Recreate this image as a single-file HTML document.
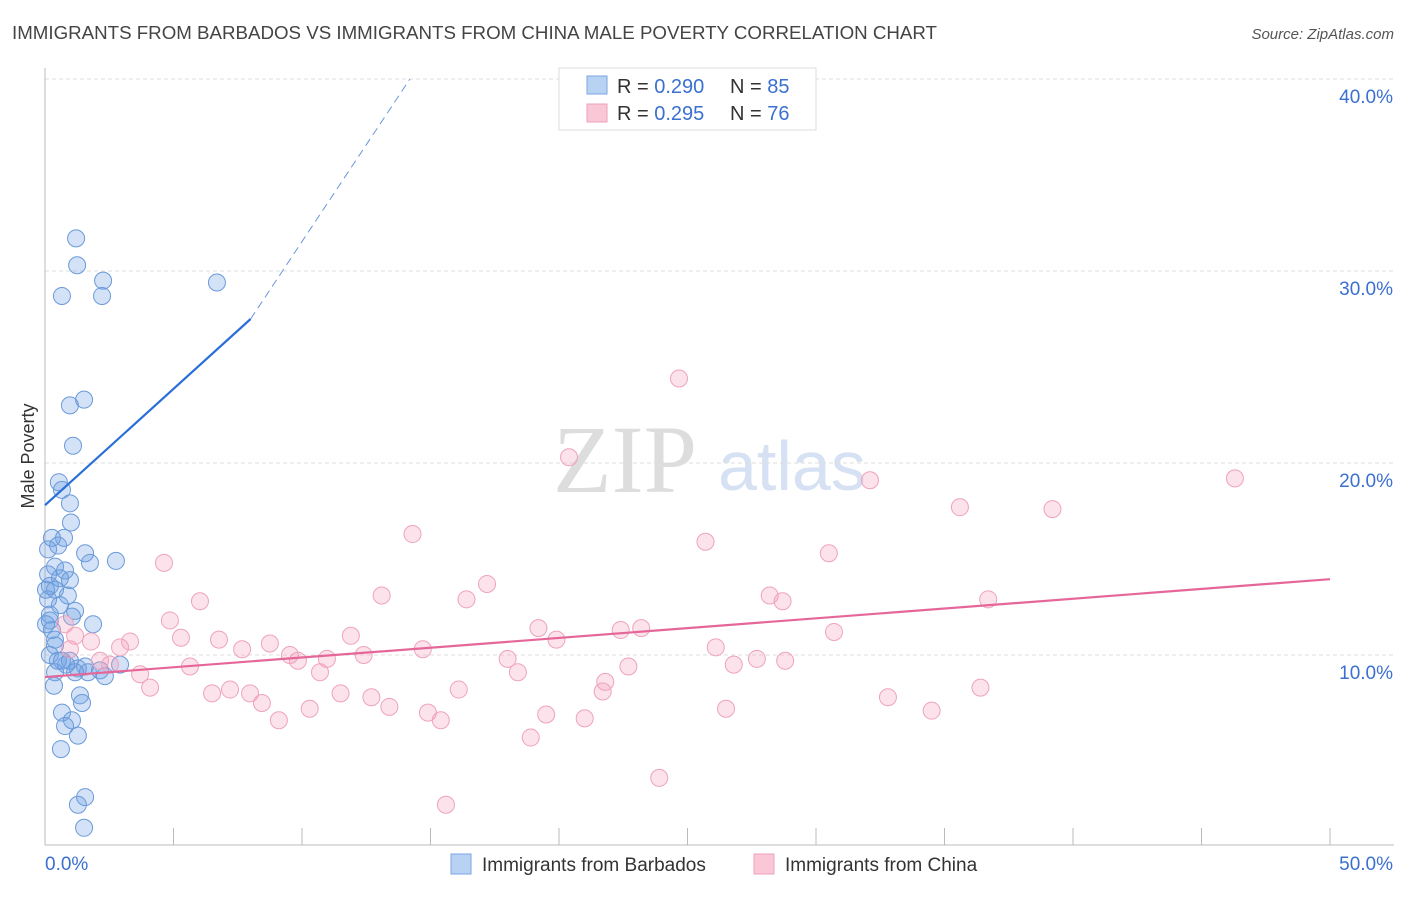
<!DOCTYPE html>
<html><head><meta charset="utf-8"><style>
body{margin:0;background:#fff;font-family:"Liberation Sans",sans-serif;}
</style></head><body>
<svg id="chart" width="1406" height="892" xmlns="http://www.w3.org/2000/svg" font-family="Liberation Sans, sans-serif">
<text x="12" y="39" font-size="18" fill="#444" textLength="925" lengthAdjust="spacingAndGlyphs">IMMIGRANTS FROM BARBADOS VS IMMIGRANTS FROM CHINA MALE POVERTY CORRELATION CHART</text>
<text x="1394" y="39" font-size="15" fill="#555" text-anchor="end" font-style="italic">Source: ZipAtlas.com</text>
<text x="553" y="492" font-size="96" fill="#ddd" style="font-family:'Liberation Serif',serif">ZIP</text>
<text x="718" y="490" font-size="70" fill="#d6e2f3">atlas</text>
<g id="grid"></g>
<g id="axes"></g>
<g id="marks"></g>
<text transform="translate(34,456) rotate(-90)" font-size="18" fill="#333" text-anchor="middle">Male Poverty</text>
<g>
<rect x="559" y="68" width="257" height="62" fill="#fff" stroke="#ddd"/>
<rect x="587" y="76" width="20" height="18" fill="#b8d2f4" stroke="#7aa6e0"/>
<rect x="587" y="104" width="20" height="18" fill="#f9c7d6" stroke="#eea0b9"/>
<text x="617" y="93" font-size="20" fill="#333">R = <tspan fill="#3a70d0">0.290</tspan></text>
<text x="730" y="93" font-size="20" fill="#333">N = <tspan fill="#3a70d0">85</tspan></text>
<text x="617" y="120" font-size="20" fill="#333">R = <tspan fill="#3a70d0">0.295</tspan></text>
<text x="730" y="120" font-size="20" fill="#333">N = <tspan fill="#3a70d0">76</tspan></text>
</g>
<g>
<rect x="451" y="854" width="20" height="20" fill="#b8d2f4" stroke="#7aa6e0"/>
<text x="482" y="871" font-size="19" fill="#333">Immigrants from Barbados</text>
<rect x="754" y="854" width="20" height="20" fill="#f9c7d6" stroke="#eea0b9"/>
<text x="785" y="871" font-size="19" fill="#333">Immigrants from China</text>
</g>
</svg>
<script>
const yTicks=[10,20,30,40];
const yTickLabels=["10.0%","20.0%","30.0%","40.0%"];
const xTickVals=[0,5,10,15,20,25,30,35,40,45,50];
const blueX=[1.21,1.25,0.66,2.26,2.22,6.69,0.97,1.52,1.09,0.54,0.66,0.97,1.01,0.74,0.27,0.51,1.56,1.75,2.76,0.39,0.78,0.58,0.97,0.19,0.39,0.89,0.12,0.58,1.17,0.19,1.05,1.87,0.27,0.39,0.39,0.66,0.97,1.28,1.56,2.14,2.92,0.39,1.17,1.67,2.33,0.35,1.36,1.44,0.66,1.05,0.78,1.28,0.62,1.28,1.56,1.52,0.12,0.12,0.19,0.82,0.04,0.19,0.5,0.04];
const blueY=[31.7,30.3,28.7,29.5,28.7,29.4,23.0,23.3,20.9,19.0,18.6,17.9,16.9,16.1,16.1,15.7,15.3,14.8,14.9,14.6,14.4,14.0,13.9,13.6,13.4,13.1,12.9,12.6,12.3,12.1,12.0,11.6,11.3,10.8,10.5,9.7,9.7,9.3,9.4,9.2,9.5,9.1,9.1,9.1,8.9,8.4,7.9,7.5,7.0,6.6,6.3,5.8,5.1,2.2,2.6,1.0,15.5,14.2,11.8,9.5,11.6,10.0,9.7,13.4];
const pinkX=[24.67,20.39,46.3,32.1,35.6,39.2,14.3,25.7,30.5,4.63,17.2,13.1,16.4,28.2,28.7,36.7,6.03,4.86,19.2,19.9,22.4,23.2,30.7,11.9,5.29,6.77,3.31,1.79,2.92,8.75,7.67,14.7,26.1,9.53,10.97,12.4,2.14,2.53,9.84,5.64,18.0,27.7,28.8,26.8,22.7,3.7,10.7,18.4,21.8,4.09,16.1,6.5,7.2,7.98,11.5,12.7,21.7,32.8,36.4,8.44,13.4,10.3,26.5,34.5,14.9,19.5,9.1,15.4,21.0,18.9,23.9,15.6,1.17,0.97,0.78];
const pinkY=[24.4,20.3,19.2,19.1,17.7,17.6,16.3,15.9,15.3,14.8,13.7,13.1,12.9,13.1,12.8,12.9,12.8,11.8,11.4,10.8,11.3,11.4,11.2,11.0,10.9,10.8,10.7,10.7,10.4,10.6,10.3,10.3,10.4,10.0,9.8,10.0,9.7,9.5,9.7,9.4,9.8,9.8,9.7,9.5,9.4,9.0,9.1,9.1,8.6,8.3,8.2,8.0,8.2,8.0,8.0,7.8,8.1,7.8,8.3,7.5,7.3,7.2,7.2,7.1,7.0,6.9,6.6,6.6,6.7,5.7,3.6,2.2,11.0,10.3,11.6];
const blueTrend=[[0,17.8],[8.0,27.5],[14.2,40]];
const pinkTrend=[[0,8.85],[50,13.95]];
const sx=v=>45+v*25.7, sy=v=>847-v*19.2;
const NS="http://www.w3.org/2000/svg";
function mk(p,t,a){const e=document.createElementNS(NS,t);for(const k in a)e.setAttribute(k,a[k]);p.appendChild(e);return e;}
const grid=document.getElementById('grid'),axes=document.getElementById('axes'),marks=document.getElementById('marks');
yTicks.forEach((t,i)=>{
 const l=mk(grid,'line',{x1:45,x2:1394,y1:sy(t),y2:sy(t),stroke:'#ddd','stroke-dasharray':'4,3'});
 
 
 const tx=mk(axes,'text',{x:1393,y:sy(t)+24,'font-size':19,fill:'#3a70d0','text-anchor':'end'});tx.textContent=yTickLabels[i];
 
 
});
let a=mk(axes,'line',{x1:45,x2:45,y1:68,y2:845,stroke:'#bbb'});


a=mk(axes,'line',{x1:45,x2:1394,y1:845,y2:845,stroke:'#bbb'});


xTickVals.forEach(v=>{const t=mk(axes,'line',{x1:sx(v),x2:sx(v),y1:828,y2:845,stroke:'#bbb'});
 
 });
let t0=mk(axes,'text',{x:45,y:870,'font-size':19,fill:'#3a70d0'});t0.textContent='0.0%';


let t1=mk(axes,'text',{x:1393,y:870,'font-size':19,fill:'#3a70d0','text-anchor':'end'});t1.textContent='50.0%';


blueX.forEach((x,i)=>{const c=mk(marks,'circle',{cx:sx(x),cy:sy(blueY[i]),r:8.5,fill:'rgba(110,160,230,0.3)',stroke:'#6b9ad9','stroke-width':1});
 
 });
pinkX.forEach((x,i)=>{const c=mk(marks,'circle',{cx:sx(x),cy:sy(pinkY[i]),r:8.5,fill:'rgba(245,160,190,0.3)',stroke:'#eea3bd','stroke-width':1});
 
 });
let b=mk(marks,'line',{x1:sx(blueTrend[0][0]),y1:sy(blueTrend[0][1]),x2:sx(blueTrend[1][0]),y2:sy(blueTrend[1][1]),stroke:'#2a6fd8','stroke-width':2.2});


b=mk(marks,'line',{x1:sx(blueTrend[1][0]),y1:sy(blueTrend[1][1]),x2:sx(blueTrend[2][0]),y2:sy(blueTrend[2][1]),stroke:'#6a95dd','stroke-width':1,'stroke-dasharray':'8,5'});


b=mk(marks,'line',{x1:sx(pinkTrend[0][0]),y1:sy(pinkTrend[0][1]),x2:sx(pinkTrend[1][0]),y2:sy(pinkTrend[1][1]),stroke:'#e5679a','stroke-width':2.2});


</script>
</body></html>
